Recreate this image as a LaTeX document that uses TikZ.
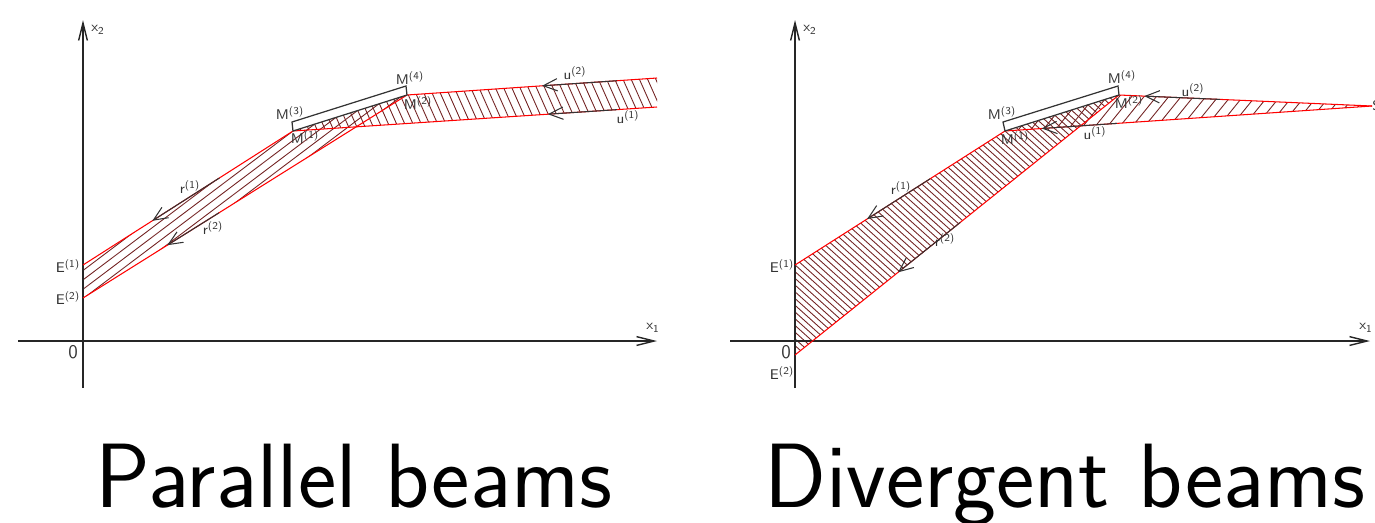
\documentclass[tikz,border=0pt]{standalone}
\usetikzlibrary{arrows.meta, calc}
\definecolor{hatch}{RGB}{115,35,35}
\tikzset{
  axis/.style={line width=0.8pt, black!85, -{Straight Barb[length=10pt,width=5pt]}},
  edge/.style={red, line width=0.6pt},
  hatchline/.style={hatch, line width=0.5pt},
  mirror/.style={draw=black!80, line width=0.7pt},
  ray/.style={black!80, line width=0.6pt, -{Straight Barb[length=8pt,width=7pt]}},
  lbl/.style={font=\sffamily\fontsize{8}{9}\selectfont, text=black!80, inner sep=0pt},
  zero/.style={font=\sffamily\fontsize{11}{12}\selectfont, text=black!80, inner sep=0pt},
  title/.style={font=\sffamily\fontsize{52}{56}\selectfont, anchor=base, inner sep=0pt, text depth=0pt}
}
\newcommand{\lab}[2]{#1\textsuperscript{(#2)}}

\begin{document}
\begin{tikzpicture}[x=0.02cm, y=-0.02cm]
    \useasboundingbox (0,0) rectangle (1375,522);

    % Parallel beams: points
    \coordinate (pX0) at (18,341);
    \coordinate (pX1) at (657,341);
    \coordinate (pY0) at (83,388);
    \coordinate (pY1) at (83,20);
    \coordinate (pE1) at (83,265);
    \coordinate (pE2) at (83,298);
    \coordinate (pM1) at (293,131);
    \coordinate (pM2) at (407,95);
    \coordinate (pM3) at (292,122);
    \coordinate (pM4) at (406,86);
    \coordinate (pU1) at (657,107);
    \coordinate (pU2) at (657,78);

    % Hatching
    \begin{scope}
        \clip (pE1) -- (pM1) -- (pM2) -- (pE2) -- cycle;
        \foreach \k in {-70,...,70}
            \draw[hatchline] ($(pM1)+(53:\k*7.5)$) ++(-37:-500) -- ++(-37:1000);
    \end{scope}
    \begin{scope}
        \clip (pM1) -- (pM2) -- (pU2) -- (pU1) -- cycle;
        \foreach \k in {-60,...,60}
            \draw[hatchline] ($(pM1)+(-24:\k*7.5)$) ++(66:-500) -- ++(66:1000);
    \end{scope}

    % Axes
    \draw[axis] (pX0) -- (pX1);
    \draw[axis] (pY0) -- (pY1);

    % Beam edges and mirror
    \draw[edge] (pE1) -- (pM1) -- (pU1);
    \draw[edge] (pE2) -- (pM2) -- (pU2);
    \draw[mirror] (pM1) -- (pM2) -- (pM4) -- (pM3) -- cycle;

    % Rays
    \coordinate (pR1a) at ($(pE1)!0.65!(pM1)$);
    \coordinate (pR1b) at ($(pE1)!0.33!(pM1)$);
    \coordinate (pR2a) at ($(pE2)!0.42!(pM2)$);
    \coordinate (pR2b) at ($(pE2)!0.26!(pM2)$);
    \coordinate (pV2a) at ($(pM2)!0.84!(pU2)$);
    \coordinate (pV2b) at ($(pM2)!0.54!(pU2)$);
    \coordinate (pV1a) at ($(pM1)!0.89!(pU1)$);
    \coordinate (pV1b) at ($(pM1)!0.70!(pU1)$);
    \draw[ray] (pR1a) -- (pR1b);
    \draw[ray] (pR2a) -- (pR2b);
    \draw[ray] (pV2a) -- (pV2b);
    \draw[ray] (pV1a) -- (pV1b);

    % Labels
    \node[lbl] (pLx2) at (98,30) {x\textsubscript{2}};
    \node[lbl] (pLx1) at (653,328) {x\textsubscript{1}};
    \node[zero] (pL0) at (73,352) {0};
    \node[lbl] (pLE1) at (68,266) {\lab{E}{1}};
    \node[lbl] (pLE2) at (68,298) {\lab{E}{2}};
    \node[lbl] (pLM3) at (290,113) {\lab{M}{3}};
    \node[lbl] (pLM4) at (410,78) {\lab{M}{4}};
    \node[lbl] (pLM1) at (305,137) {\lab{M}{1}};
    \node[lbl] (pLM2) at (418,103) {\lab{M}{2}};
    \node[lbl] (pLr1) at (190,187) {\lab{r}{1}};
    \node[lbl] (pLr2) at (213,228) {\lab{r}{2}};
    \node[lbl] (pLu2) at (575,73) {\lab{u}{2}};
    \node[lbl] (pLu1) at (628,117) {\lab{u}{1}};

    % Divergent beams: points
    \coordinate (dX0) at (730,341);
    \coordinate (dX1) at (1370,341);
    \coordinate (dY0) at (795,388);
    \coordinate (dY1) at (795,20);
    \coordinate (dE1) at (795,265);
    \coordinate (dE2) at (795,355);
    \coordinate (dM1) at (1005,131);
    \coordinate (dM2) at (1119,95);
    \coordinate (dM3) at (1003,122);
    \coordinate (dM4) at (1118,86);
    \coordinate (dS) at (1372,106);

    % Hatching
    \begin{scope}
        \clip (dE1) -- (dM1) -- (dM2) -- (dE2) -- cycle;
        \foreach \k in {-90,...,90}
            \draw[hatchline] ($(dM1)+(-48:\k*5)$) ++(42:-500) -- ++(42:1000);
    \end{scope}
    \begin{scope}
        \clip (dM1) -- (dM2) -- (dS) -- cycle;
        \foreach \k in {-60,...,60}
            \draw[hatchline] ($(dM1)+(39:\k*9.6)$) ++(-51:-500) -- ++(-51:1000);
    \end{scope}

    % Axes
    \draw[axis] (dX0) -- (dX1);
    \draw[axis] (dY0) -- (dY1);

    % Beam edges and mirror
    \draw[edge] (dE1) -- (dM1) -- (dS);
    \draw[edge] (dE2) -- (dM2) -- (dS);
    \draw[mirror] (dM1) -- (dM2) -- (dM4) -- (dM3) -- cycle;

    % Rays
    \coordinate (dR1a) at ($(dE1)!0.643!(dM1)$);
    \coordinate (dR1b) at ($(dE1)!0.343!(dM1)$);
    \coordinate (dR2a) at ($(dE2)!0.51!(dM2)$);
    \coordinate (dR2b) at ($(dE2)!0.318!(dM2)$);
    \coordinate (dV2a) at ($(dM2)!0.40!(dS)$);
    \coordinate (dV2b) at ($(dM2)!0.10!(dS)$);
    \coordinate (dV1a) at ($(dM1)!0.305!(dS)$);
    \coordinate (dV1b) at ($(dM1)!0.10!(dS)$);
    \draw[ray] (dR1a) -- (dR1b);
    \draw[ray] (dR2a) -- (dR2b);
    \draw[ray] (dV2a) -- (dV2b);
    \draw[ray] (dV1a) -- (dV1b);

    % Labels
    \node[lbl] (dLx2) at (810,30) {x\textsubscript{2}};
    \node[lbl] (dLx1) at (1366,328) {x\textsubscript{1}};
    \node[zero] (dL0) at (786,352) {0};
    \node[lbl] (dLE1) at (782,266) {\lab{E}{1}};
    \node[lbl] (dLE2) at (782,373) {\lab{E}{2}};
    \node[lbl] (dLM3) at (1002,113) {\lab{M}{3}};
    \node[lbl] (dLM4) at (1122,77) {\lab{M}{4}};
    \node[lbl] (dLM1) at (1015,138) {\lab{M}{1}};
    \node[lbl] (dLM2) at (1129,102) {\lab{M}{2}};
    \node[lbl] (dLr1) at (901,188) {\lab{r}{1}};
    \node[lbl] (dLr2) at (945,240) {\lab{r}{2}};
    \node[lbl] (dLu2) at (1193,90) {\lab{u}{2}};
    \node[lbl] (dLu1) at (1095,133) {\lab{u}{1}};
    \node[lbl, anchor=west] (dLS) at (1372,106) {S};

    % Titles
    \node[title] (pTitle) at (354,507) {Parallel beams};
    \node[title] (dTitle) at (1065,507) {Divergent beams};
\end{tikzpicture}
\end{document}
